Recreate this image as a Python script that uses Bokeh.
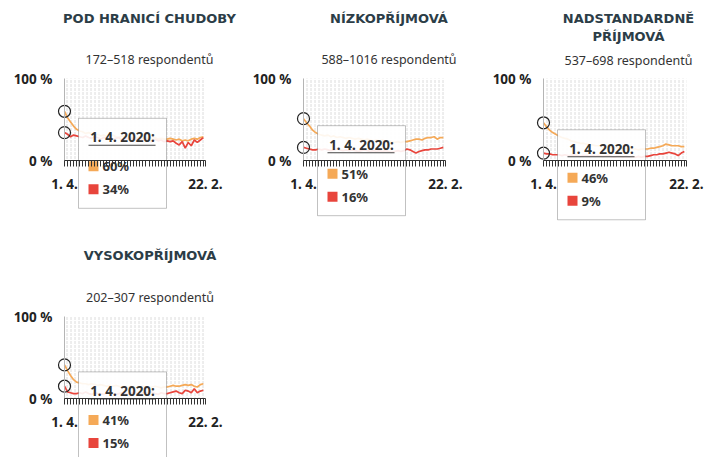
import pandas as pd
from bokeh.plotting import figure
from bokeh.models import FixedTicker, BoxAnnotation, Label, LinearAxis
from bokeh.layouts import row, column
from bokeh.embed import file_html
from bokeh.resources import INLINE

# ---------------- data ----------------
START_DATE = "2020-04-01"
END_DATE = "2021-02-22"
DATES = [
    "2020-04-01", "2020-04-08", "2020-04-15", "2020-04-22", "2020-04-29",
    "2020-05-06", "2020-05-13", "2020-05-20", "2020-05-27",
    "2020-06-03", "2020-06-10", "2020-06-17", "2020-06-24",
    "2020-07-01", "2020-07-08", "2020-07-15", "2020-07-22", "2020-07-29",
    "2020-08-05", "2020-08-12", "2020-08-19", "2020-08-26",
    "2020-09-02", "2020-09-09", "2020-09-16", "2020-09-23", "2020-09-30",
    "2020-10-07", "2020-10-14", "2020-10-21", "2020-10-28",
    "2020-11-04", "2020-11-11", "2020-11-18", "2020-11-25",
    "2020-12-02", "2020-12-09", "2020-12-16", "2020-12-23", "2020-12-30",
    "2021-01-06", "2021-01-13", "2021-01-20", "2021-01-27",
    "2021-02-03", "2021-02-10", "2021-02-17",
]
X_LABEL_FIRST = "1. 4."
X_LABEL_LAST = "22. 2."
TOOLTIP_DATE = "1. 4. 2020:"
Y_LABELS = {0: "0 %", 100: "100 %"}

TITLES = [["POD HRANICÍ CHUDOBY"], ["NÍZKOPŘÍJMOVÁ"], ["NADSTANDARDNĚ", "PŘÍJMOVÁ"], ["VYSOKOPŘÍJMOVÁ"]]
SUBTITLES = ["172–518 respondentů", "588–1016 respondentů", "537–698 respondentů", "202–307 respondentů"]

ORANGE_POD = [60, 52, 47, 42, 38,
              36, 35, 33, 34, 32, 31, 32, 30, 31, 29, 30, 31, 29, 28, 30, 29, 28, 29, 27, 28, 29, 27, 28, 26, 27, 28, 26, 27, 26,
              26, 27, 26, 25, 26, 24, 25, 24, 26, 27, 26, 28, 29]
RED_POD = [34, 32, 29, 31, 30,
           29, 28, 30, 28, 27, 29, 28, 26, 28, 27, 29, 26, 27, 28, 25, 27, 26, 28, 25, 26, 27, 24, 26, 25, 23, 26, 24, 25, 23,
           24, 23, 24, 21, 19, 23, 15, 22, 18, 25, 22, 25, 28]
ORANGE_NIZ = [51, 46, 42, 37, 34,
              32, 31, 30, 31, 29, 30, 28, 29, 28, 27, 28, 27, 26, 27, 26, 25, 26, 25, 24, 25, 24, 25, 23, 24, 23, 22, 23, 22, 23,
              23, 24, 25, 26, 26, 25, 27, 28, 28, 29, 26, 28, 28]
RED_NIZ = [16, 15, 14, 13, 13,
           14, 13, 14, 13, 12, 13, 14, 13, 12, 13, 12, 13, 12, 11, 12, 13, 12, 11, 12, 11, 12, 11, 12, 11, 10, 11, 12, 11, 12,
           14, 13, 11, 9, 11, 12, 13, 13, 14, 14, 14, 15, 16]
ORANGE_NAD = [46, 41, 37, 34, 32,
              30, 28, 27, 26, 24, 23, 22, 21, 21, 20, 19, 19, 18, 18, 17, 17, 16, 16, 15, 16, 15, 15, 14, 15, 14, 14, 13, 14, 14,
              14, 15, 15, 16, 17, 18, 20, 19, 18, 18, 18, 17, 17]
RED_NAD = [9, 8, 8, 7, 7,
           7, 6, 7, 6, 6, 7, 6, 5, 6, 6, 5, 6, 5, 6, 5, 5, 6, 5, 4, 5, 5, 4, 5, 4, 5, 4, 5, 4, 5,
           5, 6, 7, 7, 8, 8, 9, 10, 9, 8, 6, 9, 11]
ORANGE_VYS = [41, 34, 28, 23, 20,
              19, 18, 18, 17, 18, 17, 16, 17, 16, 15, 16, 15, 16, 15, 14, 15, 14, 15, 14, 13, 14, 15, 14, 13, 14, 15, 14, 13, 14,
              14, 15, 16, 15, 15, 16, 17, 16, 17, 15, 14, 17, 18]
RED_VYS = [15, 8, 7, 6, 6,
           7, 6, 8, 6, 5, 7, 6, 6, 5, 7, 8, 6, 5, 6, 7, 7, 5, 6, 8, 6, 5, 7, 7, 6, 8, 6, 5, 7, 6,
           6, 7, 8, 9, 7, 6, 10, 9, 7, 12, 7, 9, 10]

SERIES = [(ORANGE_POD, RED_POD), (ORANGE_NIZ, RED_NIZ), (ORANGE_NAD, RED_NAD), (ORANGE_VYS, RED_VYS)]

ORANGE = "#f5a957"
RED = "#e8453c"
DARK = "#222222"
TITLE_COLOR = "#2c3d47"
FONT = "Noto Sans"

start = pd.Timestamp(START_DATE)
days = [(pd.Timestamp(d) - start).days for d in DATES]
end_day = (pd.Timestamp(END_DATE) - start).days
ticks = days + [end_day]

# layout (pixels inside each figure): width, height, px of first day, px of last day,
# px of 100 %, px of 0 %, title centre x, title centre y, subtitle centre y
GEOM = [
    (240, 245, 64, 205, 78, 160, 149, 18, 59),
    (240, 245, 63, 205, 78, 160, 148.5, 18, 59),
    (224, 245, 63, 206, 78, 160, 148, 18, 60),
    (240, 212, 64, 205, 71, 153, 149.5, 10, 52),
]


def make_panel(k):
    W, H, x0p, x1p, y100p, y0p, tcx, tcy, scy = GEOM[k]
    orange, red = SERIES[k]
    sx = (x1p - x0p) / end_day
    sy = (y0p - y100p) / 100.0

    def dx(px):
        return (px - x0p) / sx

    def dy(py):
        return (y0p - py) / sy

    def px(x):
        return x0p + x * sx

    def py(y):
        return y0p - y * sy

    p = figure(width=W, height=H, x_range=(dx(0), dx(W)), y_range=(dy(H), dy(0)),
               output_backend="svg", toolbar_location=None, title=None,
               x_axis_location=None, y_axis_location=None,
               min_border=0, min_border_left=0, min_border_right=0,
               min_border_top=0, min_border_bottom=0,
               outline_line_color=None, background_fill_color="white",
               border_fill_color="white")
    p.grid.visible = False

    # dotted background of the plotting area
    p.add_layout(BoxAnnotation(left=0, right=end_day, bottom=0, top=100,
                               fill_alpha=0, line_color=None,
                               hatch_pattern=":", hatch_scale=4, hatch_color="#cdcdcd",
                               hatch_weight=1, hatch_alpha=0.7, level="underlay"))

    # x axis at y = 0
    xa = LinearAxis(fixed_location=0)
    xa.ticker = FixedTicker(ticks=ticks)
    xa.bounds = (0, end_day)
    overrides = {t: "" for t in ticks}
    overrides[ticks[0]] = X_LABEL_FIRST
    overrides[ticks[-1]] = X_LABEL_LAST
    xa.major_label_overrides = overrides
    xa.major_tick_out = 6
    xa.major_tick_in = 0
    xa.minor_tick_line_color = None
    xa.axis_line_color = "#333333"
    xa.major_tick_line_color = "#333333"
    xa.major_label_standoff = 8
    xa.major_label_text_font = FONT
    xa.major_label_text_font_size = "13.5px"
    xa.major_label_text_font_style = "bold"
    xa.major_label_text_color = DARK
    xa.level = "overlay"
    p.add_layout(xa, "below")

    # y axis at the first day
    ya = LinearAxis(fixed_location=0)
    ya.ticker = FixedTicker(ticks=[0, 100])
    ya.bounds = (0, 100)
    ya.major_label_overrides = Y_LABELS
    ya.axis_line_color = "#b5b5b5"
    ya.major_tick_line_color = None
    ya.minor_tick_line_color = None
    ya.major_tick_out = 0
    ya.major_tick_in = 0
    ya.major_label_standoff = 12
    ya.major_label_text_font = FONT
    ya.major_label_text_font_size = "13.5px"
    ya.major_label_text_font_style = "bold"
    ya.major_label_text_color = DARK
    p.add_layout(ya, "left")

    # lines
    p.line(days, orange, line_color=ORANGE, line_width=1.7)
    p.line(days, red, line_color=RED, line_width=1.7)
    p.scatter([days[0], days[0]], [orange[0], red[0]], marker="circle", size=12,
              fill_color=None, line_color=DARK, line_width=1.2)

    # titles
    for j, t in enumerate(TITLES[k]):
        p.add_layout(Label(x=dx(tcx), y=dy(tcy + 18 * j), text=t, text_align="center",
                           text_baseline="middle", text_font="DejaVu Sans",
                           text_font_style="bold", text_font_size="13px",
                           text_color=TITLE_COLOR))
    p.add_layout(Label(x=dx(tcx), y=dy(scy), text=SUBTITLES[k], text_align="center",
                       text_baseline="middle", text_font=FONT, text_font_size="12.5px",
                       text_color="#333333"))

    # tooltip box
    bl = px(days[0]) + 14
    bt = py(orange[0]) + 7
    bw, bh = 88, 90
    p.add_layout(BoxAnnotation(left=dx(bl), right=dx(bl + bw), top=dy(bt), bottom=dy(bt + bh),
                               fill_color="white", fill_alpha=0.9, line_color="#333333",
                               line_width=1, level="annotation"))
    p.add_layout(Label(x=dx(bl + bw / 2), y=dy(bt + 19), text=TOOLTIP_DATE, text_align="center",
                       text_baseline="middle", text_font=FONT, text_font_style="bold",
                       text_font_size="13.5px", text_color="#333333"))
    p.add_layout(BoxAnnotation(left=dx(bl + 10), right=dx(bl + 77), top=dy(bt + 26.5), bottom=dy(bt + 27.5),
                               fill_color="#444444", fill_alpha=1, line_color=None))
    for val, col, cy in ((orange[0], ORANGE, bt + 48), (red[0], RED, bt + 71)):
        p.add_layout(BoxAnnotation(left=dx(bl + 10), right=dx(bl + 20), top=dy(cy - 5), bottom=dy(cy + 5),
                                   fill_color=col, fill_alpha=1, line_color=None))
        p.add_layout(Label(x=dx(bl + 24), y=dy(cy), text=f"{val}%", text_align="left",
                           text_baseline="middle", text_font=FONT, text_font_style="bold",
                           text_font_size="13px", text_color="#333333"))
    return p


panels = [make_panel(k) for k in range(4)]
layout = column(row(panels[0], panels[1], panels[2]), row(panels[3]))

open("out.html", "w").write(file_html(layout, INLINE))
